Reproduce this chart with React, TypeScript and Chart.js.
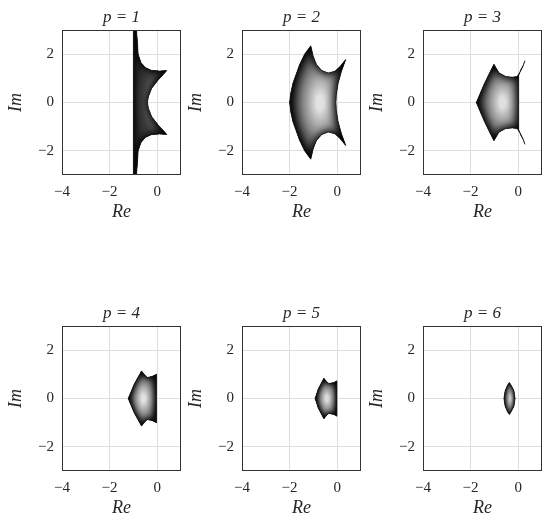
import React, { useEffect, useRef } from 'react';
import { Chart, registerables } from 'chart.js';

Chart.register(...registerables);

// ---------- data ----------
const panelTitles = ['p = 1', 'p = 2', 'p = 3', 'p = 4', 'p = 5', 'p = 6'];
const xTickValues = [-4, -2, 0];
const yTickValues = [-2, 0, 2];
const xLimits = [-4, 1];
const yLimits = [-3, 3];

// boundary of each stability region, [Re, Im], traced clockwise
const regionP1: [number, number][] = [
  [-1.0, 3.3], [-0.9, 3.3], [-0.87, 3.0], [-0.83, 2.5], [-0.8, 2.0], [-0.68, 1.65],
  [-0.5, 1.45], [-0.25, 1.33], [0.1, 1.3], [0.4, 1.32],
  [0.22, 1.12], [0.05, 0.94], [-0.23, 0.59], [-0.37, 0.24], [-0.41, 0],
  [-0.37, -0.24], [-0.23, -0.59], [0.05, -0.94], [0.22, -1.12], [0.4, -1.32],
  [0.1, -1.3], [-0.25, -1.33], [-0.5, -1.45], [-0.68, -1.65], [-0.8, -2.0],
  [-0.83, -2.5], [-0.87, -3.0], [-0.9, -3.3], [-1.0, -3.3],
];
const regionP2: [number, number][] = [
  [-2.0, 0], [-1.95, 0.4], [-1.86, 0.8], [-1.58, 1.57], [-1.37, 2.0], [-1.11, 2.35],
  [-1.01, 1.92], [-0.87, 1.57], [-0.66, 1.33], [-0.38, 1.22], [-0.1, 1.29], [0.11, 1.48], [0.36, 1.78],
  [0.18, 1.29], [0.04, 0.8], [-0.04, 0.3], [-0.05, 0],
  [-0.04, -0.3], [0.04, -0.8], [0.18, -1.29],
  [0.36, -1.78], [0.11, -1.48], [-0.1, -1.29], [-0.38, -1.22], [-0.66, -1.33], [-0.87, -1.57], [-1.01, -1.92],
  [-1.11, -2.35], [-1.37, -2.0], [-1.58, -1.57], [-1.86, -0.8], [-1.95, -0.4],
];
const regionP3: [number, number][] = [
  [-1.76, 0], [-1.6, 0.37], [-1.44, 0.74], [-1.23, 1.17], [-1.02, 1.58],
  [-0.81, 1.23], [-0.53, 1.08], [-0.25, 1.05], [-0.04, 1.08], [0.1, 1.3], [0.2, 1.5], [0.28, 1.73],
  [0.22, 1.55], [0.1, 1.33], [0.02, 1.12], [0.02, 0.6], [0.02, 0],
  [0.02, -0.6], [0.02, -1.12], [0.1, -1.33], [0.22, -1.55],
  [0.28, -1.73], [0.2, -1.5], [0.1, -1.3], [-0.04, -1.08], [-0.25, -1.05], [-0.53, -1.08], [-0.81, -1.23],
  [-1.02, -1.58], [-1.23, -1.17], [-1.44, -0.74], [-1.6, -0.37],
];
const regionP4: [number, number][] = [
  [-1.22, 0], [-1.1, 0.28], [-0.97, 0.59], [-0.66, 1.14],
  [-0.5, 0.95], [-0.41, 0.87], [-0.2, 0.92], [-0.03, 1.0],
  [-0.03, 0.4], [-0.03, 0], [-0.03, -0.4],
  [-0.03, -1.0], [-0.2, -0.92], [-0.41, -0.87], [-0.5, -0.95],
  [-0.66, -1.14], [-0.97, -0.59], [-1.1, -0.28],
];
const regionP5: [number, number][] = [
  [-0.93, 0], [-0.8, 0.39], [-0.56, 0.84],
  [-0.45, 0.7], [-0.35, 0.62], [-0.14, 0.66], [-0.01, 0.73],
  [-0.01, 0], [-0.01, -0.73],
  [-0.14, -0.66], [-0.35, -0.62], [-0.45, -0.7],
  [-0.56, -0.84], [-0.8, -0.39],
];
const regionP6: [number, number][] = [
  [-0.6, 0], [-0.55, 0.32], [-0.45, 0.55], [-0.37, 0.66],
  [-0.28, 0.52], [-0.18, 0.32], [-0.13, 0],
  [-0.18, -0.32], [-0.28, -0.52], [-0.37, -0.66],
  [-0.45, -0.55], [-0.55, -0.32],
];
const regions = [regionP1, regionP2, regionP3, regionP4, regionP5, regionP6];

// ---------- styles ----------
const innerShades = ['#6e6e6e', '#e2e2e2', '#e0e0e0', '#e2e2e2', '#dcdcdc', '#c8c8c8'];
const midShades = ['#3a3a3a', '#888888', '#858585', '#8a8a8a', '#858585', '#707070'];
const FONT = "'Liberation Serif', 'DejaVu Serif', serif";
const TEXT = '#262626';
const CANVAS_W = 183;
const CANVAS_H = 227;
const colLefts = [0, 180, 361];
const rowTops = [0, 296];

const fmt = (v: number) => (v < 0 ? '\u2212' + Math.abs(v) : String(v));

const regionPlugin = {
  id: 'regionShade',
  beforeDatasetsDraw(chart: any, _args: any, opts: any) {
    const meta = chart.getDatasetMeta(0);
    const pts = meta.data;
    if (!pts || !pts.length) return;
    const { ctx, chartArea: a } = chart;
    const xs = chart.scales.x;
    const ys = chart.scales.y;
    const data = chart.data.datasets[0].data as { x: number; y: number }[];
    let minX = Infinity, maxX = -Infinity, maxY = 0;
    data.forEach((p) => {
      minX = Math.min(minX, p.x);
      maxX = Math.max(maxX, p.x);
      maxY = Math.max(maxY, Math.min(Math.abs(p.y), yLimits[1]));
    });
    const cx = xs.getPixelForValue(minX + (maxX - minX) * 0.54);
    const cy = ys.getPixelForValue(0);
    const rx = Math.max(2, Math.abs(xs.getPixelForValue(maxX) - xs.getPixelForValue((minX + maxX) / 2)));
    const ry = Math.min(Math.abs(ys.getPixelForValue(maxY) - cy), rx * 3);

    const addPath = () => {
      pts.forEach((pt: any, i: number) => (i ? ctx.lineTo(pt.x, pt.y) : ctx.moveTo(pt.x, pt.y)));
      ctx.closePath();
    };

    ctx.save();
    ctx.beginPath();
    ctx.rect(a.left, a.top, a.width, a.height);
    ctx.clip();

    ctx.save();
    ctx.beginPath();
    addPath();
    ctx.clip();
    // smooth elliptical shading
    ctx.save();
    ctx.translate(cx, cy);
    ctx.scale(1, ry / rx);
    const g = ctx.createRadialGradient(0, 0, 0, 0, 0, rx);
    g.addColorStop(0, opts.inner);
    g.addColorStop(0.12, opts.inner);
    g.addColorStop(0.58, opts.mid);
    g.addColorStop(1, '#262626');
    ctx.fillStyle = g;
    ctx.fillRect(-2000, -2000, 4000, 4000);
    ctx.restore();
    // soft inner shadow along the boundary
    const blur = Math.max(2, Math.min(9, rx * 0.45));
    for (let k = 0; k < 2; k++) {
      ctx.beginPath();
      ctx.rect(a.left - 400, a.top - 400, a.width + 800, a.height + 800);
      addPath();
      ctx.shadowColor = 'rgba(0,0,0,0.85)';
      ctx.shadowBlur = blur;
      ctx.fillStyle = '#000';
      ctx.fill('evenodd');
    }
    ctx.restore();

    ctx.beginPath();
    addPath();
    ctx.strokeStyle = 'rgba(20,20,20,0.8)';
    ctx.lineWidth = 0.8;
    ctx.stroke();
    ctx.restore();
  },
  afterDatasetsDraw(chart: any) {
    const { ctx, chartArea: a } = chart;
    ctx.save();
    ctx.strokeStyle = '#333333';
    ctx.lineWidth = 1;
    ctx.strokeRect(a.left + 0.5, a.top + 0.5, a.width - 1, a.height - 1);
    ctx.restore();
  },
};

function Panel({ index }: { index: number }) {
  const ref = useRef<HTMLCanvasElement | null>(null);
  useEffect(() => {
    if (!ref.current) return;
    const chart = new Chart(ref.current, {
      type: 'scatter',
      data: {
        datasets: [
          {
            data: regions[index].map(([x, y]) => ({ x, y })),
            showLine: false,
            pointRadius: 0,
            borderWidth: 0,
          },
        ],
      },
      options: {
        animation: false,
        responsive: false,
        devicePixelRatio: 1,
        events: [],
        layout: { padding: { left: 0, right: 2, top: 0, bottom: 0 } },
        plugins: {
          legend: { display: false },
          tooltip: { enabled: false },
          title: {
            display: true,
            text: panelTitles[index],
            fullSize: false,
            color: TEXT,
            font: { family: FONT, size: 17, style: 'italic', weight: 'normal', lineHeight: 1.2 },
            padding: { top: 7.8, bottom: 1.8 },
          },
          regionShade: { inner: innerShades[index], mid: midShades[index] },
        } as any,
        scales: {
          x: {
            type: 'linear',
            min: xLimits[0],
            max: xLimits[1],
            afterBuildTicks: (s: any) => {
              s.ticks = xTickValues.map((v) => ({ value: v }));
            },
            afterFit: (s: any) => {
              s.height = 52;
            },
            grid: { color: '#dedede', lineWidth: 1, drawTicks: false },
            border: { display: false },
            ticks: {
              padding: 8,
              color: TEXT,
              font: { family: FONT, size: 15, lineHeight: 1.2 },
              callback: (v: any) => fmt(Number(v)),
            },
            title: {
              display: true,
              text: 'Re',
              color: TEXT,
              font: { family: FONT, size: 18, style: 'italic', lineHeight: 1.2 },
              padding: { top: 0, bottom: 4.2 },
            },
          },
          y: {
            type: 'linear',
            min: yLimits[0],
            max: yLimits[1],
            afterBuildTicks: (s: any) => {
              s.ticks = yTickValues.map((v) => ({ value: v }));
            },
            afterFit: (s: any) => {
              s.width = 62;
            },
            grid: { color: '#dedede', lineWidth: 1, drawTicks: false },
            border: { display: false },
            ticks: {
              padding: 8,
              color: TEXT,
              font: { family: FONT, size: 15, lineHeight: 1.2 },
              callback: (v: any) => fmt(Number(v)),
            },
            title: {
              display: true,
              text: 'Im',
              color: TEXT,
              font: { family: FONT, size: 18, style: 'italic', lineHeight: 1.2 },
              padding: { top: 5.2, bottom: 0 },
            },
          },
        },
      },
      plugins: [regionPlugin],
    } as any);
    return () => chart.destroy();
  }, [index]);
  const col = index % 3;
  const row = Math.floor(index / 3);
  return (
    <canvas
      ref={ref}
      width={CANVAS_W}
      height={CANVAS_H}
      style={{ position: 'absolute', left: colLefts[col], top: rowTops[row], width: CANVAS_W, height: CANVAS_H }}
    />
  );
}

export default function App() {
  return (
    <div style={{ position: 'absolute', left: 0, top: 0, width: 550, height: 523, background: '#ffffff' }}>
      {panelTitles.map((_, i) => (
        <Panel key={i} index={i} />
      ))}
    </div>
  );
}
